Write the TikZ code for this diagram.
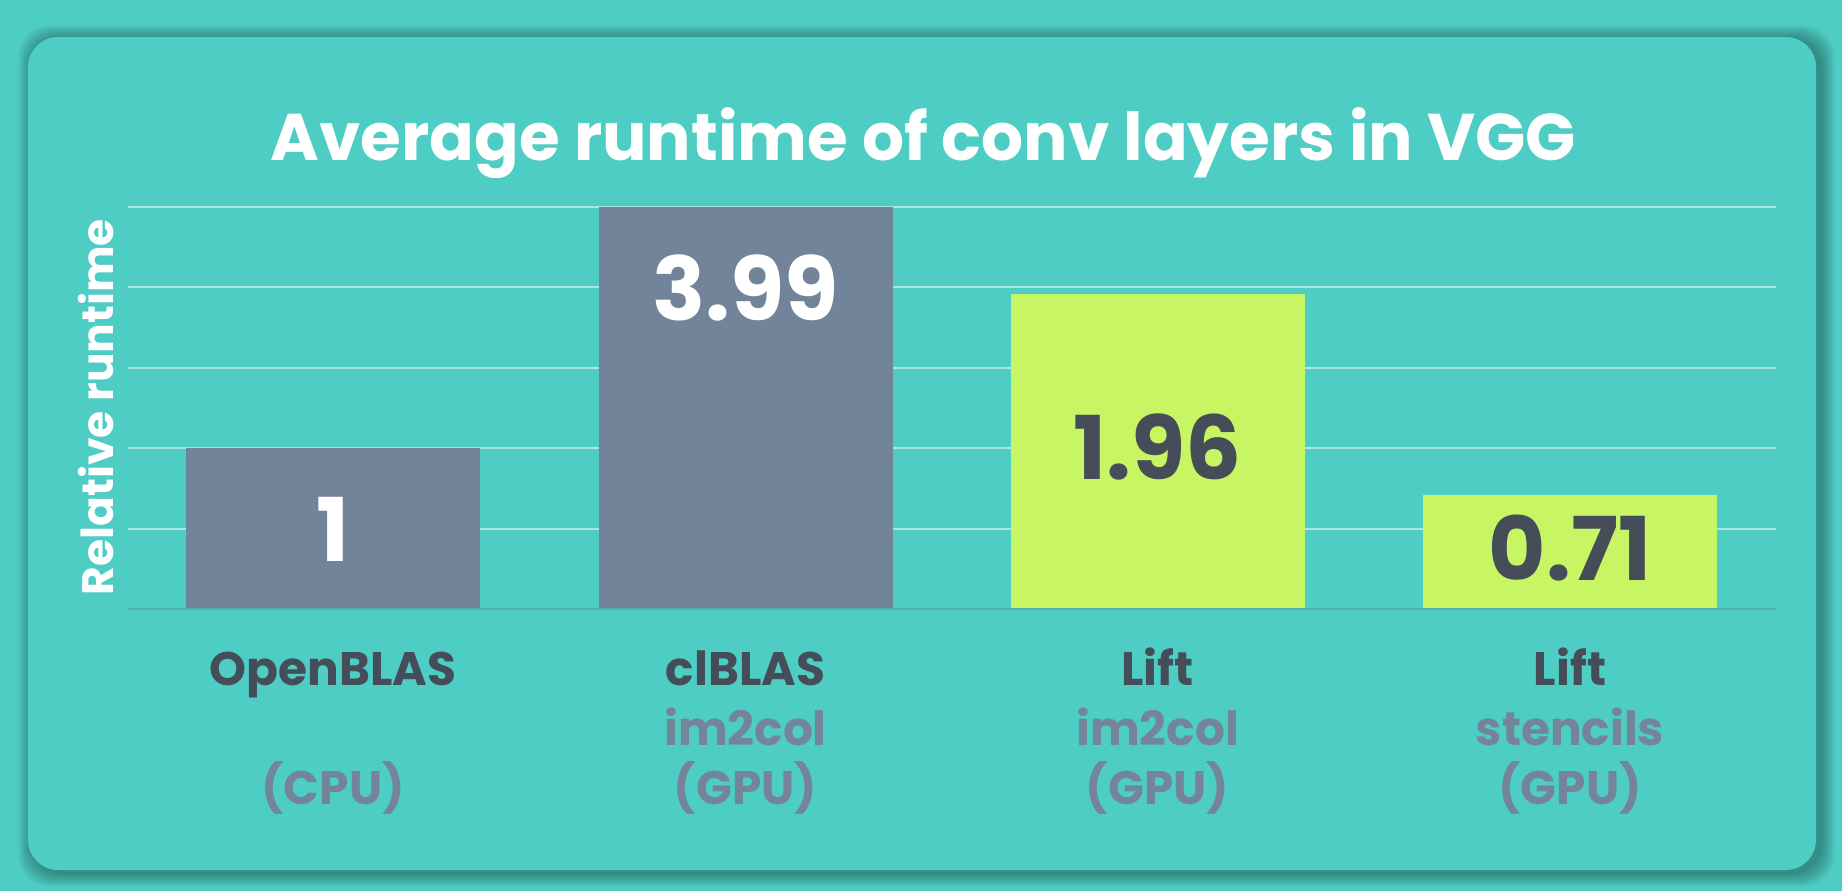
\documentclass[tikz,border=0pt]{standalone}
\usepackage{fontspec}
\setmainfont{Poppins}
\definecolor{tealbg}{RGB}{78,205,196}
\definecolor{bargray}{RGB}{114,132,153}
\definecolor{barlime}{RGB}{200,245,100}
\definecolor{inkdark}{RGB}{68,77,88}
\definecolor{inkgray}{RGB}{117,133,153}
\definecolor{gridcol}{RGB}{168,230,224}
\definecolor{basecol}{RGB}{88,178,172}
\tikzset{every picture/.style={line width=0.75pt}}
\tikzset{
  titletext/.style={anchor=base,text=white,font=\bfseries\fontsize{33}{36}\selectfont,inner sep=0pt},
  valuetext/.style={anchor=base,font=\bfseries\fontsize{44}{48}\selectfont,inner sep=0pt},
  nametext/.style={anchor=base,text=inkdark,font=\bfseries\fontsize{23.5}{28}\selectfont,inner sep=0pt},
  subtext/.style={anchor=base,text=inkgray,font=\bfseries\fontsize{23.5}{28}\selectfont,inner sep=0pt},
  axistext/.style={anchor=base,rotate=90,text=white,font=\bfseries\fontsize{22}{26}\selectfont,inner sep=0pt}
}

\begin{document}
\begin{tikzpicture}[x=0.5pt,y=0.5pt,yscale=-1]
    \useasboundingbox (0,0) rectangle (1842,891);
    \fill[tealbg] (0,0) rectangle (1842,891);

    %Shape: Card shadow
    \foreach \s in {1,...,14}
      \fill[black,opacity=0.022,rounded corners=16pt] (32-\s,39-\s) rectangle (1821+\s,873+\s);
    %Shape: Card
    \fill[tealbg,rounded corners=15pt] (28,37) rectangle (1816,870);

    %Straight Lines: grid
    \foreach \y in {206.7,287.2,367.7,448.2,528.7}
      \draw[gridcol,line width=1pt] (128,\y) -- (1776,\y);

    %Shape: Bars
    \fill[bargray] (186,447.7) rectangle (480,609);
    \fill[bargray] (598.5,206.7) rectangle (892.5,609);
    \fill[barlime] (1010.5,294) rectangle (1304.5,609);
    \fill[barlime] (1423,495) rectangle (1717,609);

    %Straight Lines: baseline
    \draw[basecol,line width=1pt] (128,609) -- (1776,609);

    % Text Node
    \node[titletext] (title) at (923.5,160) {Average runtime of conv layers in VGG};
    % Text Node
    \node[axistext] (ylabel) at (113,407) {Relative runtime};

    % Text Node: values
    \node[valuetext,text=white] (val1) at (333,561) {1};
    \node[valuetext,text=white] (val2) at (745.5,320) {3.99};
    \node[valuetext,text=inkdark] (val3) at (1157.5,479) {1.96};
    \node[valuetext,text=inkdark] (val4) at (1570,580) {0.71};

    % Text Node: categories
    \node[nametext] (name1) at (333,685) {OpenBLAS};
    \node[nametext] (name2) at (745.5,685) {clBLAS};
    \node[nametext] (name3) at (1157.5,685) {Lift};
    \node[nametext] (name4) at (1570,685) {Lift};
    \node[subtext] (sub2) at (745.5,745) {im2col};
    \node[subtext] (sub3) at (1157.5,745) {im2col};
    \node[subtext] (sub4) at (1570,745) {stencils};
    \node[subtext] (dev1) at (333,804) {(CPU)};
    \node[subtext] (dev2) at (745.5,804) {(GPU)};
    \node[subtext] (dev3) at (1157.5,804) {(GPU)};
    \node[subtext] (dev4) at (1570,804) {(GPU)};

\end{tikzpicture}
\end{document}
